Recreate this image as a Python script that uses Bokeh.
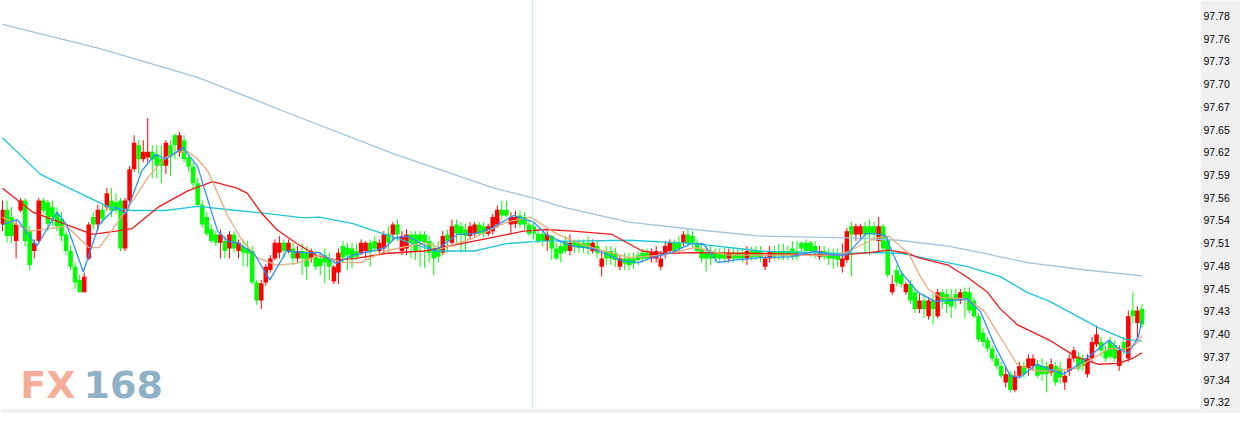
from bokeh.plotting import figure
from bokeh.models import Range1d, FixedTicker, Span, ColumnDataSource
from bokeh.embed import file_html
from bokeh.resources import INLINE
from bokeh.core.properties import value

# ---------------- data ----------------
open_ = [97.542,97.560,97.551,97.522,97.559,97.571,97.534,97.510,97.522,97.571,
         97.569,97.563,97.555,97.549,97.530,97.510,97.491,97.475,97.460,97.501,
         97.551,97.542,97.560,97.563,97.571,97.569,97.571,97.513,97.571,97.609,
         97.638,97.621,97.623,97.630,97.627,97.621,97.613,97.638,97.650,97.629,
         97.644,97.623,97.612,97.592,97.566,97.551,97.536,97.530,97.520,97.522,
         97.513,97.530,97.510,97.516,97.513,97.510,97.472,97.450,97.472,97.487,
         97.501,97.508,97.520,97.510,97.513,97.501,97.510,97.508,97.501,97.503,
         97.501,97.505,97.501,97.473,97.484,97.516,97.514,97.513,97.510,97.508,
         97.510,97.520,97.522,97.510,97.513,97.531,97.530,97.542,97.510,97.513,
         97.530,97.530,97.530,97.530,97.522,97.513,97.513,97.508,97.530,97.520,
         97.542,97.540,97.536,97.528,97.531,97.542,97.540,97.531,97.534,97.542,
         97.560,97.560,97.542,97.543,97.553,97.551,97.542,97.540,97.531,97.531,
         97.522,97.528,97.513,97.516,97.522,97.510,97.522,97.520,97.520,97.520,
         97.510,97.516,97.491,97.510,97.510,97.508,97.491,97.501,97.501,97.501,
         97.505,97.508,97.508,97.501,97.501,97.491,97.508,97.510,97.520,97.520,
         97.520,97.530,97.528,97.520,97.513,97.508,97.508,97.508,97.507,97.507,
         97.501,97.508,97.507,97.507,97.501,97.510,97.510,97.510,97.491,97.501,
         97.510,97.510,97.510,97.510,97.513,97.510,97.520,97.520,97.520,97.516,
         97.503,97.510,97.508,97.507,97.507,97.491,97.499,97.540,97.530,97.530,
         97.540,97.540,97.540,97.522,97.540,97.524,97.460,97.487,97.481,97.460,
         97.470,97.460,97.440,97.450,97.431,97.450,97.431,97.460,97.458,97.454,
         97.458,97.450,97.461,97.460,97.450,97.431,97.411,97.402,97.392,97.380,
         97.371,97.351,97.361,97.342,97.359,97.371,97.368,97.371,97.373,97.371,
         97.371,97.363,97.371,97.368,97.351,97.365,97.380,97.382,97.380,97.361,
         97.380,97.397,97.400,97.390,97.400,97.396,97.371,97.400,97.380,97.438,
         97.423,97.440]
high = [97.571,97.571,97.563,97.548,97.574,97.574,97.540,97.524,97.574,97.574,
        97.572,97.571,97.563,97.557,97.534,97.516,97.496,97.481,97.484,97.545,
        97.557,97.566,97.566,97.586,97.586,97.580,97.574,97.574,97.613,97.650,
        97.644,97.644,97.671,97.638,97.638,97.638,97.644,97.644,97.652,97.654,
        97.650,97.627,97.617,97.598,97.571,97.557,97.542,97.534,97.536,97.528,
        97.534,97.534,97.524,97.524,97.522,97.516,97.475,97.475,97.494,97.505,
        97.524,97.528,97.524,97.524,97.520,97.516,97.519,97.516,97.513,97.510,
        97.508,97.513,97.508,97.493,97.513,97.522,97.520,97.520,97.519,97.524,
        97.522,97.524,97.528,97.524,97.534,97.540,97.545,97.548,97.534,97.536,
        97.534,97.534,97.534,97.534,97.528,97.520,97.522,97.534,97.536,97.548,
        97.548,97.545,97.543,97.545,97.545,97.545,97.545,97.543,97.555,97.565,
        97.571,97.571,97.557,97.559,97.559,97.557,97.548,97.545,97.536,97.536,
        97.534,97.530,97.520,97.522,97.528,97.530,97.524,97.524,97.524,97.528,
        97.524,97.522,97.510,97.516,97.516,97.514,97.505,97.508,97.508,97.508,
        97.510,97.513,97.513,97.513,97.516,97.510,97.522,97.524,97.524,97.528,
        97.534,97.536,97.534,97.524,97.520,97.516,97.516,97.513,97.513,97.514,
        97.513,97.514,97.514,97.513,97.516,97.515,97.516,97.516,97.505,97.516,
        97.516,97.519,97.519,97.516,97.522,97.522,97.522,97.524,97.522,97.522,
        97.516,97.516,97.513,97.513,97.513,97.519,97.538,97.545,97.543,97.543,
        97.545,97.548,97.545,97.551,97.543,97.528,97.481,97.493,97.485,97.473,
        97.475,97.464,97.458,97.458,97.454,97.458,97.464,97.464,97.464,97.464,
        97.464,97.464,97.466,97.466,97.454,97.435,97.417,97.406,97.396,97.385,
        97.376,97.371,97.365,97.365,97.376,97.376,97.385,97.385,97.378,97.380,
        97.376,97.380,97.376,97.376,97.365,97.385,97.394,97.388,97.385,97.385,
        97.406,97.420,97.406,97.396,97.406,97.402,97.396,97.406,97.438,97.460,
        97.443,97.446]
low = [97.534,97.520,97.520,97.501,97.557,97.516,97.487,97.501,97.520,97.555,
       97.534,97.540,97.534,97.522,97.505,97.487,97.464,97.460,97.460,97.499,
       97.536,97.534,97.543,97.559,97.551,97.555,97.510,97.510,97.569,97.606,
       97.603,97.617,97.617,97.598,97.598,97.592,97.603,97.601,97.621,97.624,
       97.617,97.606,97.586,97.563,97.538,97.528,97.519,97.516,97.501,97.501,
       97.501,97.508,97.501,97.491,97.491,97.470,97.445,97.440,97.468,97.484,
       97.499,97.501,97.501,97.507,97.493,97.496,97.481,97.475,97.496,97.487,
       97.481,97.471,97.475,97.470,97.470,97.496,97.487,97.489,97.499,97.505,
       97.501,97.491,97.508,97.505,97.508,97.508,97.522,97.522,97.505,97.505,
       97.501,97.499,97.491,97.489,97.496,97.481,97.496,97.505,97.508,97.516,
       97.520,97.508,97.510,97.524,97.528,97.528,97.526,97.528,97.530,97.538,
       97.548,97.551,97.530,97.538,97.538,97.536,97.528,97.524,97.519,97.516,
       97.510,97.499,97.499,97.496,97.507,97.505,97.508,97.508,97.508,97.505,
       97.507,97.501,97.479,97.493,97.493,97.491,97.487,97.487,97.487,97.489,
       97.493,97.496,97.499,97.496,97.496,97.487,97.501,97.507,97.507,97.508,
       97.516,97.515,97.515,97.507,97.496,97.485,97.493,97.496,97.496,97.496,
       97.496,97.496,97.499,97.496,97.493,97.499,97.499,97.496,97.487,97.496,
       97.499,97.499,97.499,97.499,97.499,97.499,97.508,97.505,97.503,97.501,
       97.499,97.499,97.493,97.489,97.491,97.484,97.496,97.479,97.522,97.524,
       97.508,97.505,97.522,97.508,97.508,97.478,97.457,97.467,97.466,97.457,
       97.446,97.435,97.435,97.429,97.427,97.421,97.429,97.440,97.435,97.429,
       97.440,97.446,97.429,97.435,97.429,97.400,97.394,97.388,97.376,97.367,
       97.356,97.345,97.339,97.339,97.356,97.357,97.359,97.365,97.357,97.353,
       97.339,97.359,97.347,97.350,97.342,97.359,97.376,97.365,97.365,97.357,
       97.376,97.394,97.382,97.376,97.379,97.376,97.365,97.385,97.376,97.423,
       97.400,97.417]
close = [97.560,97.528,97.528,97.542,97.571,97.522,97.493,97.520,97.571,97.559,
         97.543,97.551,97.540,97.528,97.510,97.491,97.472,97.460,97.479,97.542,
         97.542,97.560,97.549,97.580,97.559,97.559,97.513,97.571,97.609,97.641,
         97.621,97.630,97.630,97.621,97.613,97.613,97.641,97.624,97.638,97.650,
         97.621,97.612,97.592,97.566,97.542,97.531,97.522,97.520,97.530,97.510,
         97.530,97.513,97.520,97.508,97.507,97.472,97.450,97.471,97.491,97.501,
         97.520,97.520,97.510,97.520,97.501,97.510,97.501,97.491,97.510,97.491,
         97.492,97.496,97.491,97.491,97.508,97.502,97.505,97.501,97.503,97.520,
         97.520,97.510,97.513,97.520,97.530,97.520,97.542,97.530,97.528,97.530,
         97.520,97.510,97.522,97.520,97.508,97.501,97.503,97.528,97.522,97.540,
         97.531,97.530,97.528,97.540,97.542,97.531,97.531,97.540,97.551,97.560,
         97.553,97.553,97.551,97.551,97.542,97.542,97.531,97.531,97.522,97.522,
         97.530,97.513,97.501,97.507,97.510,97.520,97.516,97.514,97.514,97.513,
         97.520,97.508,97.501,97.501,97.501,97.499,97.501,97.495,97.493,97.495,
         97.499,97.501,97.501,97.508,97.510,97.501,97.516,97.520,97.510,97.513,
         97.530,97.519,97.520,97.510,97.501,97.501,97.501,97.501,97.501,97.501,
         97.507,97.501,97.501,97.501,97.510,97.502,97.503,97.502,97.501,97.510,
         97.503,97.505,97.503,97.505,97.503,97.503,97.513,97.510,97.510,97.510,
         97.510,97.503,97.501,97.501,97.499,97.501,97.534,97.530,97.540,97.540,
         97.530,97.530,97.530,97.540,97.513,97.481,97.470,97.472,97.470,97.470,
         97.450,97.440,97.450,97.440,97.450,97.440,97.460,97.450,97.446,97.443,
         97.450,97.460,97.452,97.438,97.431,97.403,97.400,97.392,97.380,97.371,
         97.359,97.361,97.342,97.359,97.371,97.361,97.380,97.380,97.359,97.361,
         97.361,97.373,97.351,97.357,97.359,97.380,97.390,97.368,97.371,97.380,
         97.400,97.409,97.390,97.380,97.382,97.380,97.390,97.390,97.431,97.431,
         97.438,97.421]

# moving averages (bar position, price)
ma_fast_x = [0,3.3,7.6,12.0,14.1,17.8,21.3,25.0,27.2,30.7,33.7,35.9,39.8,43.0,45.9,47.4,49.6,51.7,55.4,58.9,
             62.6,66.3,69.8,73.5,77.2,81.5,84.3,86.5,89.3,95.2,100.2,103.9,107.6,112.6,117.0,119.8,122.8,125.7,
             130.0,136.5,140.2,143.0,147.4,151.7,154.3,157.6,161.1,167.0,173.5,179.3,182.8,185.9,188.7,190.2,
             192.4,194.6,195.9,198.0,201.7,205.4,208.3,212.6,215.4,218.5,222.0,224.1,227.8,230.7,233.7,236.5,
             240.2,243.7,245.9,248.0,250.2,251.0]
ma_fast_y = [97.542,97.548,97.516,97.557,97.542,97.485,97.542,97.563,97.555,97.607,97.627,97.621,97.635,97.612,
             97.560,97.534,97.522,97.520,97.507,97.475,97.510,97.508,97.508,97.495,97.505,97.510,97.514,97.526,
             97.528,97.510,97.530,97.531,97.537,97.553,97.545,97.530,97.522,97.516,97.513,97.498,97.496,97.502,
             97.508,97.519,97.519,97.496,97.499,97.502,97.503,97.510,97.505,97.505,97.522,97.531,97.531,97.528,
             97.510,97.484,97.460,97.449,97.450,97.452,97.437,97.397,97.359,97.357,97.373,97.367,97.361,97.371,
             97.386,97.402,97.392,97.386,97.406,97.427]
ma_mid_x = [0,6.1,14.1,19.1,21.3,25.0,28.5,32.2,35.9,38.7,40.9,43.0,45.2,49.6,52.4,56.1,60.4,64.8,69.8,75.0,
            78.9,84.3,93.0,96.7,103.9,111.1,116.3,122.0,125.7,130.7,138.0,145.2,152.4,159.8,167.0,184.3,186.5,
            192.4,195.2,199.6,201.7,203.9,206.7,212.6,216.3,219.8,223.5,227.2,230.7,236.5,240.2,243.7,247.4,
            249.6,251.0]
ma_mid_y = [97.551,97.534,97.540,97.514,97.514,97.542,97.569,97.600,97.623,97.630,97.630,97.621,97.607,97.553,
            97.526,97.502,97.493,97.495,97.505,97.496,97.496,97.510,97.520,97.513,97.526,97.545,97.551,97.531,
            97.522,97.513,97.502,97.505,97.514,97.505,97.505,97.505,97.510,97.526,97.528,97.507,97.484,97.464,
            97.454,97.452,97.437,97.406,97.373,97.365,97.365,97.368,97.380,97.392,97.392,97.397,97.408]
ma_slow_x = [0,6.7,14.1,19.8,25.0,28.5,34.3,40.9,46.3,51.7,53.9,57.2,60.4,64.8,69.1,73.5,77.8,84.3,93.0,103.9,
             114.8,119.8,125.7,134.3,140.9,145.2,152.4,167.0,184.3,190.9,195.2,199.6,201.7,208.3,212.6,217.0,
             219.8,223.5,230.7,236.5,241.5,245.9,248.9,251.0]
ma_slow_y = [97.586,97.557,97.542,97.530,97.534,97.537,97.563,97.583,97.594,97.586,97.580,97.555,97.536,97.519,
             97.505,97.499,97.501,97.507,97.510,97.522,97.534,97.536,97.534,97.530,97.510,97.507,97.508,97.507,
             97.505,97.508,97.511,97.507,97.502,97.493,97.478,97.460,97.440,97.421,97.402,97.382,97.373,97.374,
             97.380,97.387]
ma_long_x = [0,8.3,17.0,23.5,28.5,35.9,43.0,51.7,58.9,66.3,69.8,77.2,84.3,95.2,103.9,111.1,118.5,125.7,138.0,
             152.4,167.0,184.3,193.0,198.0,205.4,212.6,219.8,225.7,230.7,241.5,247.4,251.0]
ma_long_y = [97.647,97.603,97.580,97.563,97.559,97.559,97.564,97.559,97.555,97.550,97.551,97.543,97.530,97.510,
             97.510,97.519,97.522,97.522,97.523,97.519,97.510,97.507,97.508,97.507,97.499,97.491,97.479,97.460,
             97.449,97.417,97.403,97.401]
ma_vlong_x = [0,21.3,43.0,64.8,86.5,108.3,117.0,123.5,138.0,152.4,167.0,186.5,197.4,208.3,216.3,225.7,238.7,251.0]
ma_vlong_y = [97.784,97.755,97.720,97.673,97.627,97.586,97.574,97.563,97.545,97.536,97.528,97.526,97.523,97.516,
              97.507,97.496,97.487,97.480]

vline_bar = 116.7

tick_labels = ["97.78","97.76","97.73","97.70","97.67","97.65","97.62","97.59","97.56",
               "97.54","97.51","97.48","97.45","97.43","97.40","97.37","97.34","97.32"]
tick_top = 97.7944
tick_step = 0.0275

watermark_parts = ["FX", "168"]
watermark_colors = ["#f4ae98", "#8fb1c6"]

# ---------------- build ----------------
n = len(close)
xs = list(range(n))
tops = [max(o, c) for o, c in zip(open_, close)]
bots = [min(o, c) for o, c in zip(open_, close)]
cols = ["#ff0000" if c > o else "#00ff00" for o, c in zip(open_, close)]
src = ColumnDataSource(dict(x=xs, top=tops, bottom=bots, high=high, low=low, color=cols))

p = figure(frame_width=1200, frame_height=408,
           x_range=Range1d(-0.435, 263.9), y_range=Range1d(97.3195, 97.813),
           x_axis_location=None, y_axis_location="right",
           toolbar_location=None, output_backend="svg",
           min_border_left=0, min_border_top=0, min_border_right=40, min_border_bottom=5,
           background_fill_color="white", border_fill_color="#f0f0f0",
           outline_line_color=None)
p.grid.visible = False

# vertical marker line
p.add_layout(Span(location=vline_bar, dimension="height", line_color="#b4e4ea", line_width=1))

# watermark
wm_src = ColumnDataSource(dict(x=[10.0, 26.6], y=[97.3485, 97.3485], t=watermark_parts, c=watermark_colors))
p.text(x="x", y="y", text="t", text_color="c", source=wm_src,
       text_font=value("DejaVu Sans"), text_font_style="bold", text_font_size="38px",
       text_baseline="middle", text_align="center")

# candles
p.segment(x0="x", x1="x", y0="low", y1="high", line_color="color", line_width=1, source=src)
p.vbar(x="x", top="top", bottom="bottom", width=1.0, fill_color="color", line_color=None, source=src)

# moving averages
p.line(ma_vlong_x, ma_vlong_y, line_color="#9ec4dc", line_width=1.3)
p.line(ma_long_x, ma_long_y, line_color="#1cc6d8", line_width=1.3)
p.line(ma_slow_x, ma_slow_y, line_color="#f01818", line_width=1.3)
p.line(ma_mid_x, ma_mid_y, line_color="#eba87c", line_width=1.3)
p.line(ma_fast_x, ma_fast_y, line_color="#2f8fff", line_width=1.3)

ticks = [round(tick_top - k * tick_step, 4) for k in range(len(tick_labels))]
ax = p.yaxis[0]
ax.ticker = FixedTicker(ticks=ticks)
ax.major_label_overrides = {t: lab for t, lab in zip(ticks, tick_labels)}
ax.axis_line_color = None
ax.major_tick_line_color = None
ax.minor_tick_line_color = None
ax.major_tick_out = 0
ax.major_tick_in = 0
ax.major_label_standoff = 3
ax.major_label_text_font = "Liberation Sans"
ax.major_label_text_font_size = "10.5px"
ax.major_label_text_color = "#000000"

open("out.html", "w").write(file_html(p, INLINE))
